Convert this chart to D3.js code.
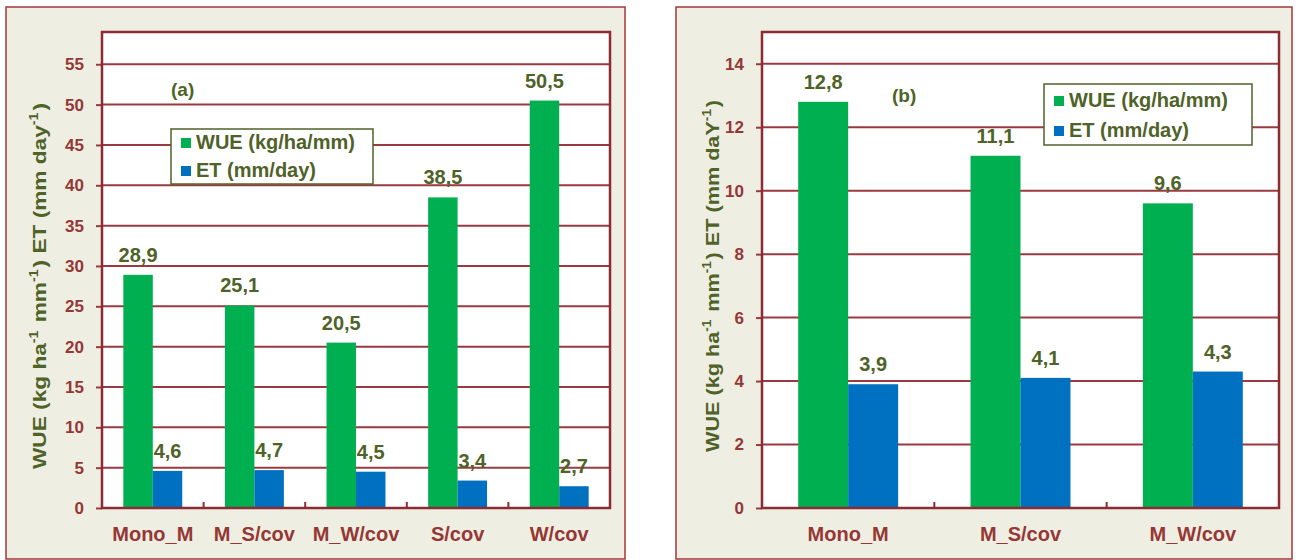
<!DOCTYPE html>
<html>
<head>
<meta charset="utf-8">
<script src="https://cdn.jsdelivr.net/npm/d3@7"></script>
<style>
  html, body { margin: 0; padding: 0; background: #ffffff; }
  svg { display: block; font-family: "Liberation Sans", Arial, sans-serif; }
</style>
</head>
<body>
<svg id="chart" width="1296" height="560"></svg>
<script>
// Panel (a)
const categoriesA = ["Mono_M", "M_S/cov", "M_W/cov", "S/cov", "W/cov"];
const wueA = [28.9, 25.1, 20.5, 38.5, 50.5];
const etA = [4.6, 4.7, 4.5, 3.4, 2.7];
const ticksA = [0, 5, 10, 15, 20, 25, 30, 35, 40, 45, 50, 55];

// Panel (b)
const categoriesB = ["Mono_M", "M_S/cov", "M_W/cov"];
const wueB = [12.8, 11.1, 9.6];
const etB = [3.9, 4.1, 4.3];
const ticksB = [0, 2, 4, 6, 8, 10, 12, 14];

const seriesNames = ["WUE (kg/ha/mm)", "ET (mm/day)"];
const seriesColors = ["#00b050", "#0070c0"];

const RED = "#953735";
const OLIVE = "#4f6228";
const GRID = "#9a3a40";
const BG = "#eeefe2";

const fmtComma = v => d3.format(".1f")(v).replace(".", ",");

const svg = d3.select("#chart");

function drawPanel(cfg) {
  const g = svg.append("g");

  // outer frame
  g.append("rect")
    .attr("x", cfg.frame[0]).attr("y", cfg.frame[1])
    .attr("width", cfg.frame[2]).attr("height", cfg.frame[3])
    .attr("fill", BG).attr("stroke", "#a3373d").attr("stroke-width", 1.5);

  const x = d3.scaleBand().domain(cfg.categories).range([cfg.left, cfg.right]);
  const y = d3.scaleLinear().domain([0, cfg.max]).range([cfg.bottom, cfg.top]);
  const bw = x.bandwidth() * 0.29;

  // plot area
  g.append("rect")
    .attr("x", cfg.left).attr("y", cfg.top)
    .attr("width", cfg.right - cfg.left).attr("height", cfg.bottom - cfg.top)
    .attr("fill", "#ffffff");

  // gridlines + left ticks
  const yAxis = d3.axisLeft(y).tickValues(cfg.ticks).tickSize(6).tickPadding(12).tickFormat(d3.format("d"));
  const ya = g.append("g").attr("transform", `translate(${cfg.left},0)`).call(yAxis);
  ya.select(".domain").remove();
  ya.selectAll(".tick line").attr("stroke", GRID).attr("stroke-width", 2);
  ya.selectAll(".tick text")
    .attr("fill", RED).attr("font-size", 17).attr("font-weight", "bold")
    .attr("font-family", "Liberation Sans, Arial, sans-serif");

  g.append("g").selectAll("line").data(cfg.ticks.filter(t => t > 0)).join("line")
    .attr("x1", cfg.left).attr("x2", cfg.right)
    .attr("y1", d => y(d)).attr("y2", d => y(d))
    .attr("stroke", GRID).attr("stroke-width", 2);

  // bars
  const series = [cfg.wue, cfg.et];
  series.forEach((vals, si) => {
    g.append("g").selectAll("rect").data(vals).join("rect")
      .attr("x", (d, i) => x(cfg.categories[i]) + x.bandwidth() / 2 - bw + si * bw)
      .attr("y", d => y(d))
      .attr("width", bw)
      .attr("height", d => y(0) - y(d))
      .attr("fill", seriesColors[si]);
  });

  // value labels
  series.forEach((vals, si) => {
    g.append("g").selectAll("text").data(vals).join("text")
      .attr("x", (d, i) => x(cfg.categories[i]) + x.bandwidth() / 2 - bw / 2 + si * bw)
      .attr("y", d => y(d) - 13)
      .attr("text-anchor", "middle")
      .attr("fill", OLIVE).attr("font-size", 20).attr("font-weight", "bold")
      .text(d => fmtComma(d));
  });

  // plot border
  g.append("rect")
    .attr("x", cfg.left).attr("y", cfg.top)
    .attr("width", cfg.right - cfg.left).attr("height", cfg.bottom - cfg.top)
    .attr("fill", "none").attr("stroke", "#8c2b33").attr("stroke-width", 2.5);

  // category separators on the x axis
  g.append("g").selectAll("line").data(cfg.categories.slice(1)).join("line")
    .attr("x1", d => x(d)).attr("x2", d => x(d))
    .attr("y1", cfg.bottom).attr("y2", cfg.bottom - 6)
    .attr("stroke", "#8c2b33").attr("stroke-width", 2);

  // category labels
  g.append("g").selectAll("text").data(cfg.categories).join("text")
    .attr("x", d => x(d) + x.bandwidth() / 2)
    .attr("y", cfg.bottom + 33)
    .attr("text-anchor", "middle")
    .attr("fill", RED).attr("font-size", 20).attr("font-weight", "bold")
    .text(d => d);

  // panel tag
  g.append("text")
    .attr("x", cfg.tag[0]).attr("y", cfg.tag[1])
    .attr("fill", OLIVE).attr("font-size", 19).attr("font-weight", "bold")
    .text(cfg.tagText);

  // legend
  const L = cfg.legend;
  g.append("rect")
    .attr("x", L.x).attr("y", L.y).attr("width", L.w).attr("height", L.h)
    .attr("fill", "#ffffff").attr("stroke", OLIVE).attr("stroke-width", 1.5);
  seriesNames.forEach((name, i) => {
    const by = L.y + L.row0 + i * L.step;
    g.append("rect")
      .attr("x", L.x + 10).attr("y", by - 11).attr("width", 10).attr("height", 10)
      .attr("fill", seriesColors[i]);
    g.append("text")
      .attr("x", L.x + 25).attr("y", by)
      .attr("fill", OLIVE).attr("font-size", 20).attr("font-weight", "bold")
      .text(name);
  });

  // y-axis title
  const t = g.append("text")
    .attr("transform", `translate(${cfg.title[0]},${cfg.title[1]}) rotate(-90)`)
    .attr("text-anchor", "middle")
    .attr("textLength", cfg.titleLen).attr("lengthAdjust", "spacingAndGlyphs")
    .attr("fill", OLIVE).attr("font-size", 19).attr("font-weight", "bold");
  cfg.titleParts.forEach(p => {
    if (p.sup) {
      t.append("tspan").attr("font-size", 12).attr("dy", -8).text(p.t);
      t.append("tspan").attr("dy", 8).text("\u200A");
    } else {
      t.append("tspan").text(p.t);
    }
  });
}

drawPanel({
  frame: [6, 7, 619, 552],
  categories: categoriesA, wue: wueA, et: etA, ticks: ticksA, max: 59,
  left: 102, right: 610, top: 32, bottom: 508,
  tag: [171, 96], tagText: "(a)",
  legend: { x: 171, y: 129, w: 202, h: 55, row0: 20, step: 28 },
  title: [46, 286], titleLen: 366,
  titleParts: [{ t: "WUE (kg ha" }, { t: "-1", sup: true }, { t: " mm" }, { t: "-1", sup: true },
               { t: ") ET (mm day" }, { t: "-1", sup: true }, { t: ")" }]
});

drawPanel({
  frame: [676, 7, 616, 552],
  categories: categoriesB, wue: wueB, et: etB, ticks: ticksB, max: 15,
  left: 762, right: 1279, top: 32, bottom: 508,
  tag: [892, 102], tagText: "(b)",
  legend: { x: 1044, y: 84, w: 208, h: 61, row0: 23, step: 30 },
  title: [719, 276], titleLen: 352,
  titleParts: [{ t: "WUE (kg ha" }, { t: "-1", sup: true }, { t: " mm" }, { t: "-1", sup: true },
               { t: ") ET (mm daY" }, { t: "-1", sup: true }, { t: ")" }]
});
</script>
</body>
</html>
